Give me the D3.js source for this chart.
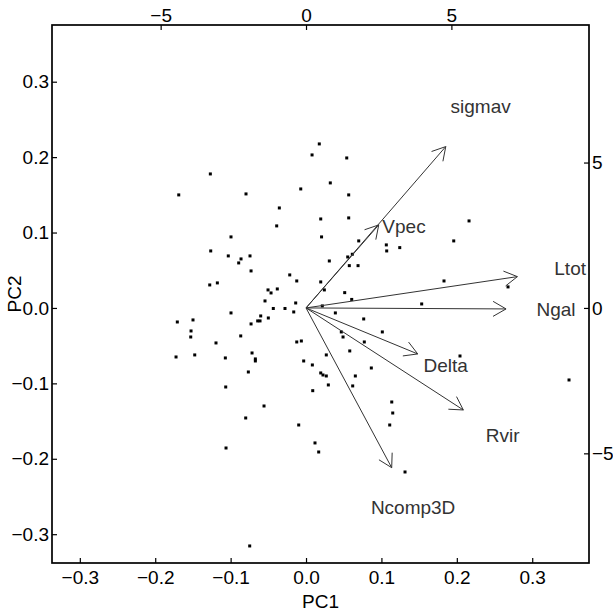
<!DOCTYPE html>
<html><head><meta charset="utf-8">
<script src="https://cdn.jsdelivr.net/npm/d3@7"></script>
<style>
body{margin:0;background:#fff;}
svg text{font-family:"Liberation Sans",Arial,sans-serif;}
</style></head>
<body><svg id="c" width="613" height="615"></svg>
<script>
// Scores (PC1, PC2)
const pc1 = [0.0176,0.0080,-0.1269,-0.1688,-0.0796,-0.0070,-0.0354,0.0195,-0.0389,-0.0995,
0.0206,-0.1264,-0.1031,-0.0862,-0.0893,-0.0743,-0.0729,-0.0216,-0.0123,0.0195,
-0.1277,-0.1176,-0.0504,-0.0464,-0.0381,-0.0544,-0.0137,-0.0434,-0.0279,0.0540,
0.0322,0.0566,0.0566,0.0699,0.1065,0.1070,0.1243,0.0614,0.0553,0.2162,
0.1959,0.0309,0.0574,0.0690,0.0243,0.0513,0.0606,0.1830,0.2679,0.1534,
0.0216,-0.0163,-0.0995,-0.1707,-0.1499,-0.1525,-0.1529,-0.0729,-0.0601,-0.0641,
-0.0610,-0.0500,-0.0866,-0.1194,-0.0123,-0.0062,-0.1724,-0.1476,-0.1070,-0.0716,
-0.0672,-0.0672,-0.0031,0.0084,0.0195,-0.0765,-0.1065,0.0089,-0.0557,-0.0800,
-0.0097,-0.1061,0.0119,0.0168,-0.0747,0.0389,0.0765,0.0468,0.0491,0.1012,
0.0773,0.0580,0.0269,0.0225,0.0269,0.0866,0.0654,0.0296,0.0619,0.2042,
0.3488,0.1137,0.1150,0.1110,0.1313];
const pc2 = [0.2175,0.2029,0.1777,0.1499,0.1512,0.1578,0.1326,0.1180,0.1088,0.0942,
0.0942,0.0756,0.0690,0.0650,0.0597,0.0690,0.0491,0.0438,0.0358,0.0345,
0.0305,0.0332,0.0239,0.0199,0.0252,0.0093,0.0066,-0.0007,-0.0007,0.1989,
0.1658,0.1499,0.1194,0.0889,0.0836,0.0756,0.0800,0.0712,0.0676,0.1154,
0.0889,0.0623,0.0561,0.0561,0.0239,0.0203,0.0113,0.0358,0.0279,0.0053,
0.0027,-0.0053,-0.0066,-0.0186,-0.0159,-0.0305,-0.0385,-0.0212,-0.0106,-0.0172,
-0.0172,-0.0133,-0.0371,-0.0464,-0.0451,-0.0438,-0.0650,-0.0623,-0.0663,-0.0597,
-0.0676,-0.0703,-0.0703,-0.0756,-0.0862,-0.0849,-0.1048,-0.1097,-0.1300,-0.1459,
-0.1552,-0.1857,-0.1790,-0.1910,-0.3156,-0.0066,-0.0146,-0.0318,-0.0385,-0.0318,
-0.0451,-0.0570,-0.0623,-0.0889,-0.0902,-0.0796,-0.0902,-0.1021,-0.1034,-0.0637,
-0.0955,-0.1247,-0.1393,-0.1552,-0.2175];

// Variable loadings (secondary axis units)
const varNames = ["sigmav","Vpec","Ltot","Ngal","Delta","Rvir","Ncomp3D"];
const arrowX = [4.806, 2.501, 7.269, 6.880, 3.842, 5.411, 2.947];
const arrowY = [5.549, 2.855, 1.077, -0.034, -1.582, -3.509, -5.493];
const labelX = [6.006, 3.371, 9.085, 8.600, 4.802, 6.763, 3.684];
const labelY = [6.935, 2.797, 1.345, -0.034, -1.978, -4.386, -6.866];

const pcTicks = [-0.3,-0.2,-0.1,0.0,0.1,0.2,0.3];
const varTicks = [-5,0,5];
const xDomain = [-0.3369, 0.3753];
const yDomain = [-0.3382, 0.3752];
const varXDomain = [-8.737, 9.733];
const varYDomain = [-8.771, 9.730];

const L=52,R=589,T=25,B=563;
const svg = d3.select("#c");
const x = d3.scaleLinear().domain(xDomain).range([L,R]);
const y = d3.scaleLinear().domain(yDomain).range([B,T]);
const xs = d3.scaleLinear().domain(varXDomain).range([L,R]);
const ys = d3.scaleLinear().domain(varYDomain).range([B,T]);

const fmt = v => (v<0?"\u2212":"") + Math.abs(v).toFixed(1);
const fmtI = v => (v<0?"\u2212":"") + Math.abs(v);
const FS = "19px";

function style(g){
  g.select(".domain").remove();
  g.selectAll(".tick line").attr("stroke","#000").attr("stroke-width",1.2);
  g.selectAll(".tick text").attr("fill","#000").style("font-size",FS);
}
svg.append("g").attr("transform",`translate(0,${B})`)
  .call(d3.axisBottom(x).tickValues(pcTicks).tickFormat(fmt).tickSize(-5).tickPadding(8)).call(style);
svg.append("g").attr("transform",`translate(${L},0)`)
  .call(d3.axisLeft(y).tickValues(pcTicks).tickFormat(fmt).tickSize(-5).tickPadding(3)).call(style);
svg.append("g").attr("transform",`translate(0,${T})`)
  .call(d3.axisTop(xs).tickValues(varTicks).tickFormat(fmtI).tickSize(-5).tickPadding(3)).call(style);
svg.append("g").attr("transform",`translate(${R},0)`)
  .call(d3.axisRight(ys).tickValues(varTicks).tickFormat(fmtI).tickSize(-5).tickPadding(3)).call(style);

svg.append("rect").attr("x",L).attr("y",T).attr("width",R-L).attr("height",B-T)
  .attr("fill","none").attr("stroke","#000").attr("stroke-width",1.7);

svg.append("text").attr("x",(L+R)/2).attr("y",608).attr("text-anchor","middle")
  .style("font-size",FS).text("PC1");
svg.append("text").attr("transform",`translate(20.5,${(T+B)/2}) rotate(-90)`).attr("text-anchor","middle")
  .style("font-size",FS).text("PC2");

// points
svg.append("g").selectAll("rect").data(pc1.map((v,i)=>[v,pc2[i]])).join("rect")
  .attr("x",d=>x(d[0])-1.5).attr("y",d=>y(d[1])-1.5).attr("width",3).attr("height",3).attr("fill","#000");

// arrows
const ag = svg.append("g").attr("stroke","#333").attr("stroke-width",1).attr("fill","none");
const x0 = xs(0), y0 = ys(0);
varNames.forEach((n,i)=>{
  const x1 = xs(arrowX[i]), y1 = ys(arrowY[i]);
  const ang = Math.atan2(y1-y0, x1-x0);
  const len = 15, a = Math.PI/6;
  const p = d3.path();
  p.moveTo(x0,y0); p.lineTo(x1,y1);
  p.moveTo(x1-len*Math.cos(ang-a), y1-len*Math.sin(ang-a)); p.lineTo(x1,y1);
  p.lineTo(x1-len*Math.cos(ang+a), y1-len*Math.sin(ang+a));
  ag.append("path").attr("d",p.toString());
  svg.append("text").attr("x",xs(labelX[i])).attr("y",ys(labelY[i])).attr("dy","0.35em")
    .attr("text-anchor","middle").attr("fill","#333").style("font-size",FS).text(n);
});
</script></body></html>
